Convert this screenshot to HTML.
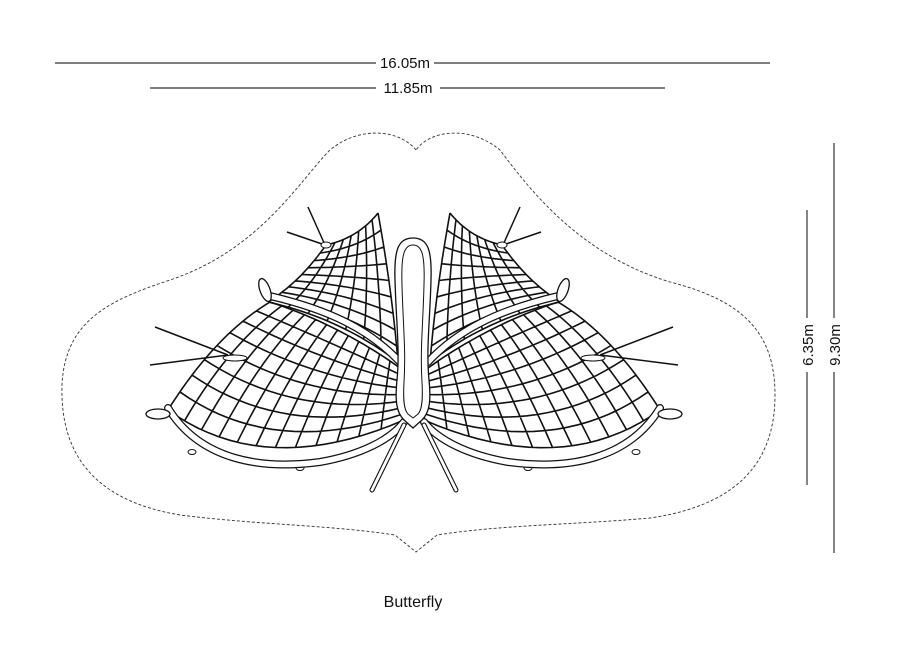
<!DOCTYPE html>
<html><head><meta charset="utf-8"><style>
html,body{margin:0;padding:0;background:#fff}
svg{display:block}
text{font-family:"Liberation Sans","DejaVu Sans",sans-serif;fill:#111}
</style></head><body>
<svg id="s" width="900" height="668" viewBox="0 0 900 668" xmlns="http://www.w3.org/2000/svg">
<g stroke="#333" stroke-width="1.2">
<line x1="55" y1="63" x2="376" y2="63"/><line x1="434" y1="63" x2="770" y2="63"/>
<line x1="150" y1="88" x2="376" y2="88"/><line x1="440" y1="88" x2="665" y2="88"/>
<line x1="807" y1="210" x2="807" y2="318"/><line x1="807" y1="372" x2="807" y2="485"/>
<line x1="834" y1="143" x2="834" y2="318"/><line x1="834" y1="372" x2="834" y2="553"/>
</g>
<text x="405" y="68" font-size="15" text-anchor="middle">16.05m</text>
<text x="408" y="93" font-size="15" text-anchor="middle">11.85m</text>
<text transform="translate(813,345) rotate(-90)" font-size="15" text-anchor="middle">6.35m</text>
<text transform="translate(840,345) rotate(-90)" font-size="15" text-anchor="middle">9.30m</text>
<text x="413" y="607" font-size="16" text-anchor="middle">Butterfly</text>
<path d="M416,150 C400,130 360,125 330,150 C300,180 260,250 170,280 C110,300 65,320 62,385 C60,450 90,500 180,515 C260,525 330,525 395,535 L416,552 L437,535 C500,525 570,525 650,518 C740,505 775,460 775,395 C775,330 740,300 670,282 C580,255 530,190 500,150 C470,125 430,130 416,150 Z" fill="none" stroke="#333" stroke-width="0.9" stroke-dasharray="3,2"/>
<g id="L"></g>
<use href="#L" transform="translate(828,0) scale(-1,1)"/>
<path d="M413,238 C398,238 394,250 395,280 C396,320 400,350 397,380 C395,400 396,412 404,420 L413,428 L422,420 C430,412 431,400 429,380 C426,350 430,320 431,280 C432,250 428,238 413,238 Z" fill="#fff" stroke="#111" stroke-width="1.3"/>
<path d="M413,245 C404,245 401,255 402,285 C403,325 406,350 404,382 C403,400 404,410 408,414 L413,418 L418,414 C422,410 423,400 422,382 C420,350 423,325 424,285 C425,255 422,245 413,245 Z" fill="none" stroke="#111" stroke-width="1"/>
</svg>
<script>
const NS="http://www.w3.org/2000/svg";
const L=document.getElementById('L');
function el(t,a){const e=document.createElementNS(NS,t);for(const k in a)e.setAttribute(k,a[k]);L.appendChild(e);return e;}
function q(p0,c,p1,t){const u=1-t;return [u*u*p0[0]+2*u*t*c[0]+t*t*p1[0],u*u*p0[1]+2*u*t*c[1]+t*t*p1[1]];}
function coons(top,bot,left,right,nu,nv){
 const P=(u,v)=>{const a=q(...top,u),b=q(...bot,u),c=q(...left,v),d=q(...right,v);
  const P00=top[0],P10=top[2],P01=bot[0],P11=bot[2];
  return [0,1].map(i=>(1-v)*a[i]+v*b[i]+(1-u)*c[i]+u*d[i]-((1-u)*(1-v)*P00[i]+u*(1-v)*P10[i]+(1-u)*v*P01[i]+u*v*P11[i]));};
 let d="";
 for(let i=0;i<=nu;i++){const u=i/nu;d+="M";for(let j=0;j<=20;j++){const p=P(u,j/20);d+=p[0].toFixed(1)+","+p[1].toFixed(1)+" ";}}
 for(let i=0;i<=nv;i++){const v=i/nv;d+="M";for(let j=0;j<=20;j++){const p=P(j/20,v);d+=p[0].toFixed(1)+","+p[1].toFixed(1)+" ";}}
 el('path',{d:d,fill:'none',stroke:'#111','stroke-width':1.6});
}
coons([[326,245],[358,238],[378,213]],[[268,302],[340,318],[398,362]],
      [[326,245],[300,282],[268,302]],[[378,213],[392,290],[398,362]],7,9);
coons([[270,302],[340,325],[400,368]],[[168,410],[265,480],[404,420]],
      [[270,302],[215,335],[168,410]],[[400,368],[402,395],[404,420]],12,8);
el('path',{d:"M325,245 L308,207 M325,245 L287,232 M228,355 L155,327 M228,355 L150,365",stroke:'#111','stroke-width':1.5,fill:'none'});
el('ellipse',{cx:326,cy:245,rx:5,ry:3,fill:'#fff',stroke:'#111'});
el('ellipse',{cx:235,cy:358,rx:12,ry:3,fill:'#fff',stroke:'#111'});
for(const [x,y] of [[192,452],[300,468]]) el('ellipse',{cx:x,cy:y,rx:4,ry:2.5,fill:'#fff',stroke:'#111'});
const tube="M270,296 C330,310 370,330 400,362 M168,408 C200,460 260,470 320,462 C360,455 390,440 404,422";
el('path',{d:tube,stroke:'#111','stroke-width':8,fill:'none','stroke-linecap':'round'});
el('path',{d:tube,stroke:'#fff','stroke-width':5.5,fill:'none','stroke-linecap':'round'});
const leg="M404,425 L372,490";
el('path',{d:leg,stroke:'#111','stroke-width':5,fill:'none','stroke-linecap':'round'});
el('path',{d:leg,stroke:'#fff','stroke-width':2.8,fill:'none','stroke-linecap':'round'});
el('ellipse',{cx:265,cy:290,rx:5,ry:12,fill:'#fff',stroke:'#111','stroke-width':1.3,transform:'rotate(-20 265 290)'});
el('ellipse',{cx:158,cy:414,rx:12,ry:5,fill:'#fff',stroke:'#111','stroke-width':1.3});
</script>
</body></html>
